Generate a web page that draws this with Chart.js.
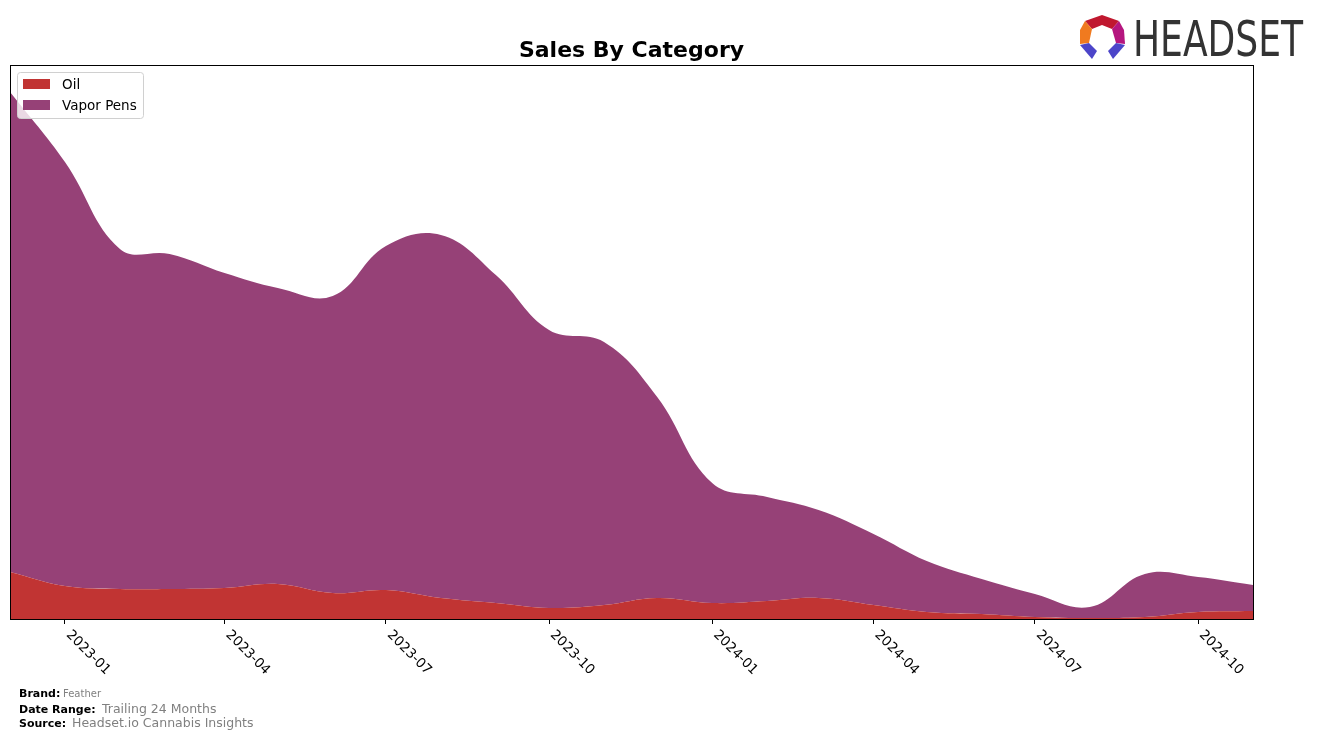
<!DOCTYPE html>
<html lang="en">
<head>
<meta charset="UTF-8">
<title>Sales By Category</title>
<script src="https://cdn.jsdelivr.net/npm/chart.js"></script>
<style>
  body { margin: 0; background: #fff; }
  canvas { display: block; }
</style>
</head>
<body>
<canvas id="salesChart" width="1317" height="741"></canvas>
<script>
// monthly data
const months = ['2022-12', '2023-01', '2023-02', '2023-03', '2023-04', '2023-05', '2023-06', '2023-07',
                '2023-08', '2023-09', '2023-10', '2023-11', '2023-12', '2024-01', '2024-02', '2024-03',
                '2024-04', '2024-05', '2024-06', '2024-07', '2024-08', '2024-09', '2024-10', '2024-11'];
const oilSales = [47, 33, 30, 30, 31, 35, 26, 29, 21, 16, 11, 14, 21, 16, 18, 21, 14, 7, 5, 2, 1, 2, 7, 8];
const vaporPenSales = [480, 424, 340, 335, 315, 296, 297, 344, 363, 328, 278, 263, 201, 120, 104, 88, 71, 51, 35, 23, 11, 43, 35, 26];
const tickMonths = ['2023-01', '2023-04', '2023-07', '2023-10', '2024-01', '2024-04', '2024-07', '2024-10'];

const oilColor = '#c13433';
const vaporColor = '#964177';

// month string -> day number so the x axis is spaced by real time
function toDay(m) {
    return Date.UTC(+m.slice(0, 4), +m.slice(5, 7) - 1, 1) / 86400000;
}
const xDays = months.map(toDay);

const extras = {
    id: 'extras',
    afterDraw(chart) {
        const ctx = chart.ctx;
        const area = chart.chartArea;
        const xScale = chart.scales.x;
        ctx.save();

        // frame around the plot
        ctx.strokeStyle = '#000';
        ctx.lineWidth = 1;
        ctx.strokeRect(Math.round(area.left) + 0.5, Math.round(area.top) + 0.5,
                       Math.round(area.right - area.left), Math.round(area.bottom - area.top));

        // rotated tick labels
        ctx.fillStyle = '#000';
        ctx.font = '13.5px "DejaVu Sans"';
        ctx.textAlign = 'left';
        ctx.textBaseline = 'top';
        tickMonths.forEach(m => {
            const x = xScale.getPixelForValue(toDay(m));
            ctx.save();
            ctx.translate(x + 8, area.bottom + 9);
            ctx.rotate(Math.PI / 4);
            ctx.fillText(m, 0, 0);
            ctx.restore();
        });

        // title
        ctx.font = 'bold 22px "DejaVu Sans"';
        ctx.textAlign = 'center';
        ctx.textBaseline = 'alphabetic';
        ctx.fillText('Sales By Category', (area.left + area.right) / 2, 57);

        // legend inside the plot
        const lx = area.left + 7, ly = area.top + 7;
        ctx.fillStyle = 'rgba(255,255,255,0.8)';
        ctx.strokeStyle = '#d0d0d0';
        ctx.beginPath();
        ctx.roundRect(lx + 0.5, ly + 0.5, 126, 46, 3);
        ctx.fill();
        ctx.stroke();
        const entries = [['Oil', oilColor], ['Vapor Pens', vaporColor]];
        ctx.font = '13.5px "DejaVu Sans"';
        ctx.textAlign = 'left';
        ctx.textBaseline = 'middle';
        entries.forEach((e, i) => {
            const ey = ly + 12 + i * 21;
            ctx.fillStyle = e[1];
            ctx.fillRect(lx + 6, ey - 5, 27, 10);
            ctx.fillStyle = '#000';
            ctx.fillText(e[0], lx + 45, ey + 1);
        });

        // footer
        const footer = [['Brand:', 'Feather', 694, 63, 10], ['Date Range:', 'Trailing 24 Months', 710, 102, 12.5],
                        ['Source:', 'Headset.io Cannabis Insights', 724, 72, 12.5]];
        footer.forEach(f => {
            ctx.font = 'bold 11px "DejaVu Sans"';
            ctx.fillStyle = '#000';
            ctx.fillText(f[0], 19, f[2]);
            ctx.font = f[4] + 'px "DejaVu Sans"';
            ctx.fillStyle = '#808080';
            ctx.fillText(f[1], f[3], f[2]);
        });

        // logo
        const shapes = [
            ['#c0182f', [[1085, 21], [1102, 15], [1119, 21], [1112, 29], [1102, 25], [1092, 29]]],
            ['#f07a1f', [[1085, 21], [1092, 29], [1089, 43], [1080, 44], [1080, 30]]],
            ['#b5167f', [[1119, 21], [1124, 30], [1125, 44], [1116, 43], [1112, 29]]],
            ['#4c45c9', [[1080, 45], [1089, 43], [1097, 51], [1092, 59]]],
            ['#4c45c9', [[1125, 45], [1116, 43], [1108, 51], [1113, 59]]]
        ];
        shapes.forEach(s => {
            ctx.fillStyle = s[0];
            ctx.beginPath();
            s[1].forEach((p, i) => i ? ctx.lineTo(p[0], p[1]) : ctx.moveTo(p[0], p[1]));
            ctx.closePath();
            ctx.fill();
        });
        ctx.fillStyle = '#333';
        ctx.font = '50px "DejaVu Sans Condensed", "DejaVu Sans"';
        ctx.textAlign = 'left';
        ctx.textBaseline = 'alphabetic';
        const tw = ctx.measureText('HEADSET').width;
        ctx.save();
        ctx.translate(1133, 56);
        ctx.scale(170 / tw, 1);
        ctx.fillText('HEADSET', 0, 0);
        ctx.restore();

        ctx.restore();
    }
};

new Chart(document.getElementById('salesChart'), {
    type: 'line',
    data: {
        datasets: [{
            label: 'Oil',
            data: xDays.map((d, i) => ({ x: d, y: oilSales[i] })),
            backgroundColor: oilColor,
            borderWidth: 0,
            pointRadius: 0,
            fill: 'origin',
            tension: 0.4
        }, {
            label: 'Vapor Pens',
            data: xDays.map((d, i) => ({ x: d, y: vaporPenSales[i] })),
            backgroundColor: vaporColor,
            borderWidth: 0,
            pointRadius: 0,
            fill: '-1',
            tension: 0.4
        }]
    },
    options: {
        responsive: false,
        animation: false,
        layout: { padding: { left: 10, top: 65, right: 64, bottom: 117 } },
        plugins: {
            legend: { display: false },
            title: { display: false },
            tooltip: { enabled: false }
        },
        scales: {
            x: {
                type: 'linear',
                min: xDays[0],
                max: xDays[xDays.length - 1],
                afterBuildTicks: s => { s.ticks = tickMonths.map(m => ({ value: toDay(m) })); },
                ticks: { display: false },
                grid: { drawOnChartArea: false, tickLength: 5, color: '#000' },
                border: { display: false }
            },
            y: {
                stacked: true,
                min: 0,
                max: 554,
                display: false
            }
        }
    },
    plugins: [extras]
});
</script>
</body>
</html>
